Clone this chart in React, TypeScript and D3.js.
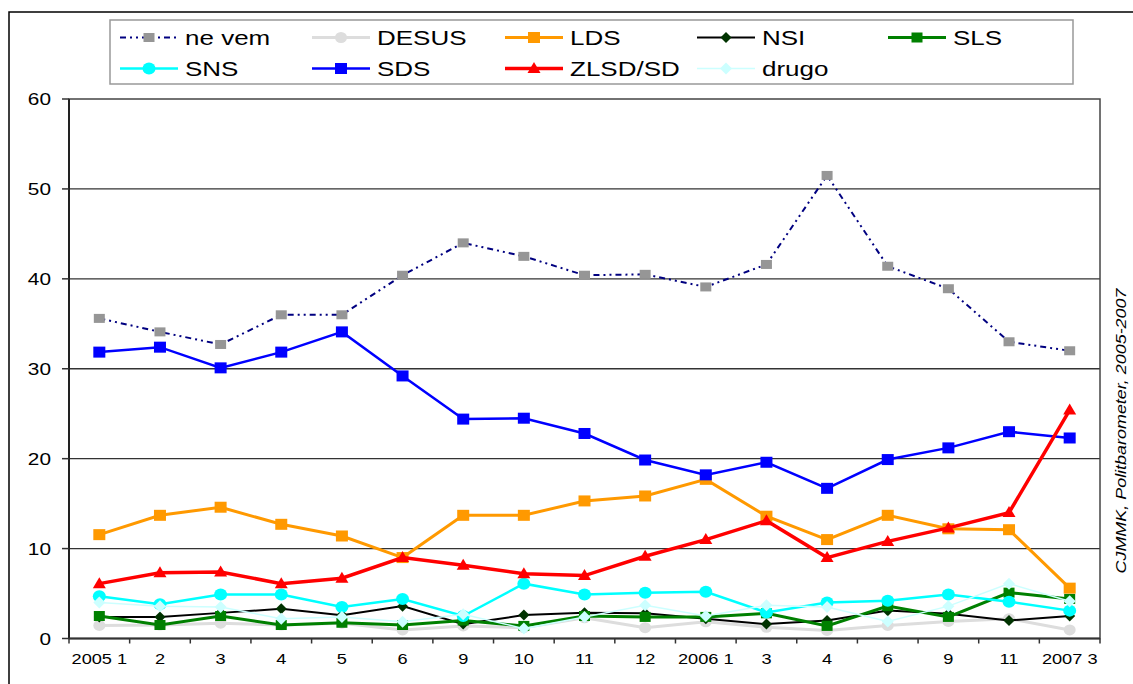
import React from 'react';
import * as d3 from 'd3';

// x categories (survey waves)
const categories = ['2005 1', '2', '3', '4', '5', '6', '9', '10', '11', '12', '2006 1', '3', '4', '6', '9', '11', '2007 3'];
const yTicks = [0, 10, 20, 30, 40, 50, 60];

// series values
const neVem = [35.6, 34.1, 32.7, 36.0, 36.0, 40.4, 44.0, 42.5, 40.4, 40.5, 39.1, 41.6, 51.5, 41.4, 38.9, 33.0, 32.0];
const desus = [1.45, 1.5, 1.7, 1.5, 1.7, 0.95, 1.4, 1.2, 2.3, 1.2, 1.85, 1.25, 0.9, 1.45, 1.9, 2.2, 0.95];
const lds = [11.55, 13.7, 14.6, 12.7, 11.4, 9.0, 13.7, 13.7, 15.3, 15.85, 17.7, 13.6, 11.0, 13.7, 12.2, 12.1, 5.6];
const nsi = [2.4, 2.4, 2.85, 3.3, 2.6, 3.6, 1.6, 2.6, 2.85, 2.8, 2.2, 1.6, 2.0, 3.1, 2.75, 2.0, 2.5];
const sls = [2.5, 1.5, 2.5, 1.5, 1.75, 1.5, 2.0, 1.4, 2.5, 2.4, 2.4, 2.8, 1.4, 3.6, 2.4, 5.1, 4.4];
const sns = [4.7, 3.8, 4.9, 4.9, 3.5, 4.4, 2.5, 6.1, 4.9, 5.1, 5.2, 2.9, 4.0, 4.2, 4.9, 4.1, 3.1];
const sds = [31.85, 32.4, 30.1, 31.85, 34.1, 29.2, 24.4, 24.5, 22.8, 19.85, 18.2, 19.6, 16.7, 19.9, 21.2, 23.0, 22.3];
const zlsd = [6.1, 7.3, 7.4, 6.1, 6.7, 9.0, 8.15, 7.2, 7.0, 9.15, 11.0, 13.1, 9.0, 10.8, 12.3, 14.0, 25.4];
const drugo = [4.0, 3.6, 3.5, 2.2, 2.4, 1.85, 2.7, 1.1, 2.4, 3.7, 2.5, 3.7, 3.5, 1.9, 3.6, 6.1, 4.15];

type Series = {
  name: string;
  values: number[];
  line: string;
  width: number;
  dash?: string;
  marker: 'square' | 'circle' | 'diamond' | 'triangle';
  fill: string;
  mw: number;
  mh: number;
};

const series: Series[] = [
  { name: 'ne vem', values: neVem, line: '#000080', width: 2, dash: '6,4,2,4,2,4', marker: 'square', fill: '#969696', mw: 11, mh: 9 },
  { name: 'DESUS', values: desus, line: '#DDDDDD', width: 3, marker: 'circle', fill: '#DDDDDD', mw: 12, mh: 11 },
  { name: 'LDS', values: lds, line: '#FF9900', width: 3, marker: 'square', fill: '#FF9900', mw: 12, mh: 11 },
  { name: 'NSI', values: nsi, line: '#000000', width: 2, marker: 'diamond', fill: '#003300', mw: 11, mh: 11 },
  { name: 'SLS', values: sls, line: '#008000', width: 3, marker: 'square', fill: '#008000', mw: 11, mh: 10 },
  { name: 'SNS', values: sns, line: '#00FFFF', width: 2.5, marker: 'circle', fill: '#00FFFF', mw: 13, mh: 12 },
  { name: 'SDS', values: sds, line: '#0000FF', width: 2.5, marker: 'square', fill: '#0000FF', mw: 12, mh: 11 },
  { name: 'ZLSD/SD', values: zlsd, line: '#FF0000', width: 3.5, marker: 'triangle', fill: '#FF0000', mw: 13, mh: 11 },
  { name: 'drugo', values: drugo, line: '#CCFFFF', width: 1.5, marker: 'diamond', fill: '#CCFFFF', mw: 12, mh: 12 },
];

const W = 1133;
const H = 684;
const FONT = '"Liberation Sans", Arial, sans-serif';
const SX = 1.3; // the original chart is stretched sideways

const x = d3.scaleBand<number>().domain(d3.range(categories.length)).range([69, 1100]).padding(0);
const y = d3.scaleLinear().domain([0, 60]).range([638.5, 99]);
const cx = (i: number) => (x(i) as number) + x.bandwidth() / 2;

function Marker({ s, px, py }: { s: Series; px: number; py: number }) {
  const w = s.mw / 2;
  const h = s.mh / 2;
  if (s.marker === 'square') return <rect x={px - w} y={py - h} width={s.mw} height={s.mh} fill={s.fill} />;
  if (s.marker === 'circle') return <ellipse cx={px} cy={py} rx={w} ry={h} fill={s.fill} />;
  if (s.marker === 'diamond')
    return <polygon points={`${px},${py - h} ${px + w},${py} ${px},${py + h} ${px - w},${py}`} fill={s.fill} />;
  return <polygon points={`${px},${py - h - 1} ${px + w},${py + h - 1} ${px - w},${py + h - 1}`} fill={s.fill} />;
}

function SText({ x: tx, y: ty, anchor = 'start', size, children }: any) {
  return (
    <g transform={`translate(${tx},${ty}) scale(${SX},1)`}>
      <text textAnchor={anchor} fontSize={size} fontFamily={FONT} fill="#000">
        {children}
      </text>
    </g>
  );
}

export default function App() {
  const line = d3
    .line<number>()
    .x((_, i) => cx(i))
    .y((d) => y(d));

  const legendCols = [120, 312, 505, 697, 888];
  const legendRows = [37.5, 68.5];

  return (
    <svg width={W} height={H} style={{ position: 'absolute', left: 0, top: 0, background: '#fff' }}>
      {/* outer frame */}
      <rect x={9} y={12} width={1300} height={900} fill="none" stroke="#000" strokeWidth={1.5} />

      {/* gridlines */}
      {yTicks.slice(1, -1).map((t) => (
        <line key={t} x1={69} x2={1100} y1={y(t)} y2={y(t)} stroke="#333" strokeWidth={1.3} />
      ))}
      {/* plot frame */}
      <rect x={69} y={y(60)} width={1100 - 69} height={y(0) - y(60)} fill="none" stroke="#444" strokeWidth={1.5} />
      <line x1={69} x2={69} y1={y(60)} y2={y(0)} stroke="#222" strokeWidth={2} />
      <line x1={69} x2={1100} y1={y(0)} y2={y(0)} stroke="#333" strokeWidth={2} />

      {/* y ticks and labels */}
      {yTicks.map((t) => (
        <g key={t}>
          <line x1={62} x2={69} y1={y(t)} y2={y(t)} stroke="#333" strokeWidth={1.5} />
          <SText x={51} y={y(t) + 6} anchor="end" size={16}>
            {t}
          </SText>
        </g>
      ))}

      {/* x ticks and labels */}
      {d3.range(categories.length + 1).map((i) => {
        const tx = i < categories.length ? (x(i) as number) : 1100;
        return <line key={i} x1={tx} x2={tx} y1={y(0)} y2={y(0) + 5} stroke="#333" strokeWidth={1.5} />;
      })}
      {categories.map((c, i) => (
        <SText key={i} x={cx(i)} y={664} anchor="middle" size={14}>
          {c}
        </SText>
      ))}

      {/* series */}
      {series.map((s) => (
        <g key={s.name}>
          <path d={line(s.values) as string} fill="none" stroke={s.line} strokeWidth={s.width} strokeDasharray={s.dash} />
          {s.values.map((v, i) => (
            <Marker key={i} s={s} px={cx(i)} py={y(v)} />
          ))}
        </g>
      ))}

      {/* legend */}
      <rect x={110} y={20} width={963} height={64} fill="#fff" stroke="#999" strokeWidth={1.5} />
      {series.map((s, k) => {
        const lx = legendCols[k % 5];
        const ly = legendRows[Math.floor(k / 5)];
        return (
          <g key={s.name}>
            <line x1={lx} x2={lx + 58} y1={ly} y2={ly} stroke={s.line} strokeWidth={s.width} strokeDasharray={s.dash} />
            <Marker s={s} px={lx + 29} py={ly} />
            <SText x={lx + 65} y={ly + 7.5} size={20}>
              {s.name}
            </SText>
          </g>
        );
      })}

      {/* source note */}
      <g transform="translate(1126,431) rotate(-90)">
        <text textAnchor="middle" fontSize={14} fontStyle="italic" fontFamily={FONT} textLength={285} lengthAdjust="spacingAndGlyphs">
          CJMMK, Politbarometer, 2005-2007
        </text>
      </g>
    </svg>
  );
}
